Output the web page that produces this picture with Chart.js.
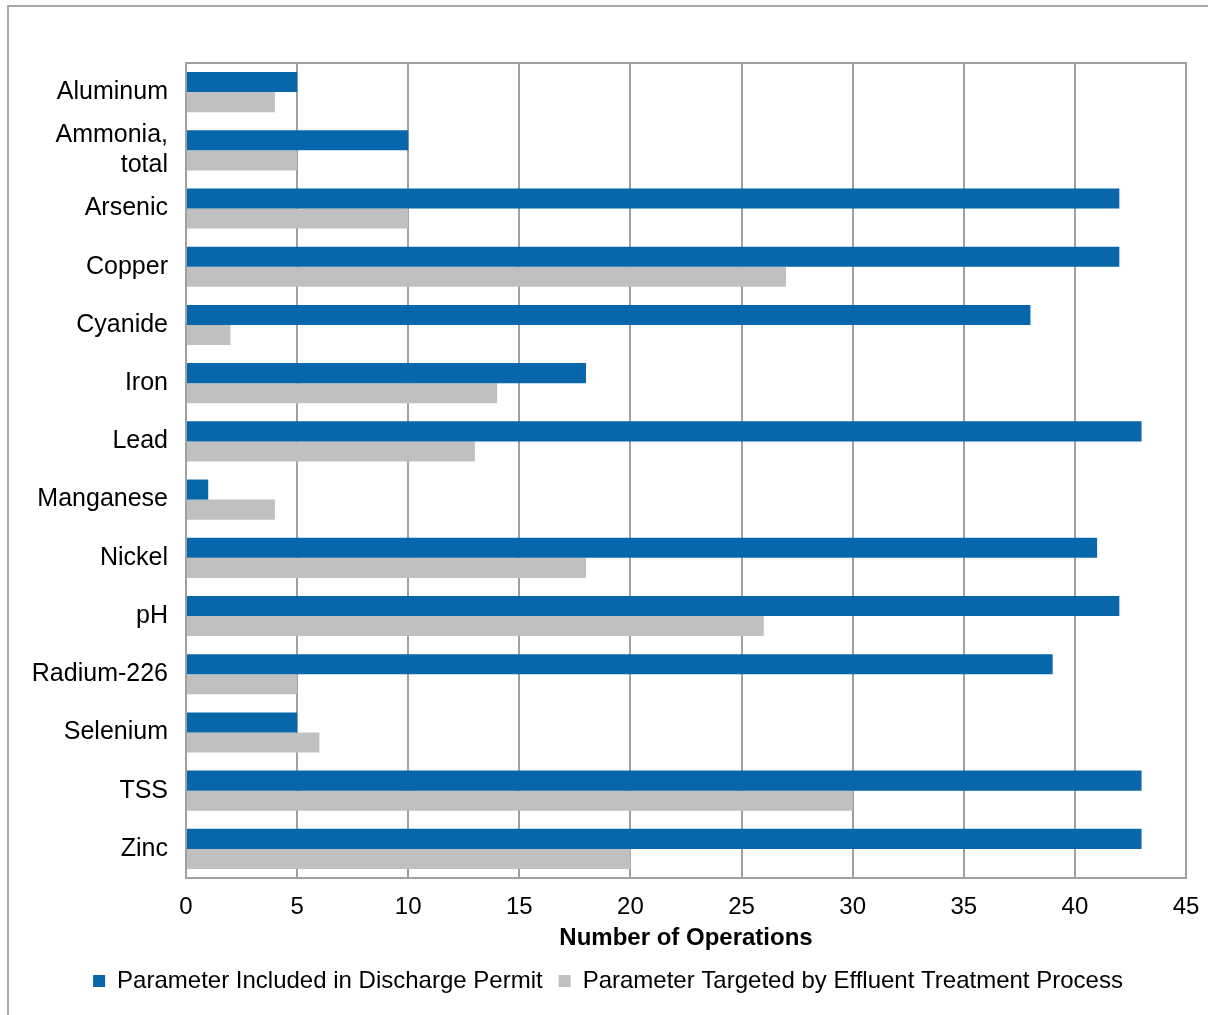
<!DOCTYPE html>
<html>
<head>
<meta charset="utf-8">
<script src="https://cdn.jsdelivr.net/npm/chart.js@4.4.0/dist/chart.umd.min.js"></script>
<style>
    body { margin: 0; background: #fff; overflow: hidden; }
    #frame { position: absolute; left: 7px; top: 5px; width: 1300px; height: 1100px; border: 2px solid #a8a8a8; }
    #myChart { position: absolute; left: 0; top: 0; }
</style>
</head>
<body>
<div id="frame"></div>
<canvas id="myChart" width="1208" height="1015"></canvas>
<script>
// Chart data
const categories = ['Aluminum', ['Ammonia,', 'total'], 'Arsenic', 'Copper', 'Cyanide', 'Iron', 'Lead',
    'Manganese', 'Nickel', 'pH', 'Radium-226', 'Selenium', 'TSS', 'Zinc'];
const permitCounts = [5, 10, 42, 42, 38, 18, 43, 1, 41, 42, 39, 5, 43, 43];
const treatmentCounts = [4, 5, 10, 27, 2, 14, 13, 4, 18, 26, 5, 6, 30, 20];
const seriesNames = ['Parameter Included in Discharge Permit', 'Parameter Targeted by Effluent Treatment Process'];
const xMin = 0;
const xMax = 45;
const xStep = 5;

const fontFamily = '"Liberation Sans", Arial, sans-serif';

// Draw the grey box round the plot area
const plotBorder = {
    id: 'plotBorder',
    afterDatasetsDraw(chart) {
        const { ctx, chartArea: a } = chart;
        ctx.save();
        ctx.strokeStyle = '#a0a0a0';
        ctx.lineWidth = 2;
        ctx.strokeRect(a.left, a.top, a.right - a.left, a.bottom - a.top);
        ctx.restore();
    }
};

const ctx = document.getElementById('myChart').getContext('2d');

new Chart(ctx, {
    type: 'bar',
    data: {
        labels: categories,
        datasets: [{
            label: seriesNames[0],
            data: permitCounts,
            backgroundColor: '#0767aa',
        }, {
            label: seriesNames[1],
            data: treatmentCounts,
            backgroundColor: '#c0c0c0',
        }]
    },
    plugins: [plotBorder],
    options: {
        indexAxis: 'y',
        responsive: false,
        animation: false,
        categoryPercentage: 0.69,
        barPercentage: 1,
        layout: {
            padding: { left: 30, right: 22, top: 63, bottom: 12 }
        },
        scales: {
            x: {
                min: xMin,
                max: xMax,
                afterFit: (scale) => {
                    scale.height = 75;
                    scale.paddingRight = 0; // let the "45" label hang past the plot edge
                },
                grid: {
                    color: '#a0a0a0',
                    lineWidth: 2,
                    drawTicks: false,
                },
                border: { display: false },
                ticks: {
                    stepSize: xStep,
                    padding: 15,
                    color: '#000',
                    font: { family: fontFamily, size: 24 }
                },
                title: {
                    display: true,
                    text: 'Number of Operations',
                    color: '#000',
                    padding: 0,
                    font: { family: fontFamily, size: 24, weight: 'bold' }
                }
            },
            y: {
                afterFit: (scale) => { scale.width = 156; },
                grid: { display: false, drawTicks: false },
                border: { display: false },
                ticks: {
                    autoSkip: false,
                    padding: 18,
                    color: '#000',
                    font: { family: fontFamily, size: 25 }
                }
            }
        },
        plugins: {
            legend: {
                position: 'bottom',
                labels: {
                    boxWidth: 12,
                    boxHeight: 12,
                    padding: 16,
                    color: '#000',
                    font: { family: fontFamily, size: 24 }
                }
            },
            tooltip: { enabled: false }
        }
    }
});
</script>
</body>
</html>
